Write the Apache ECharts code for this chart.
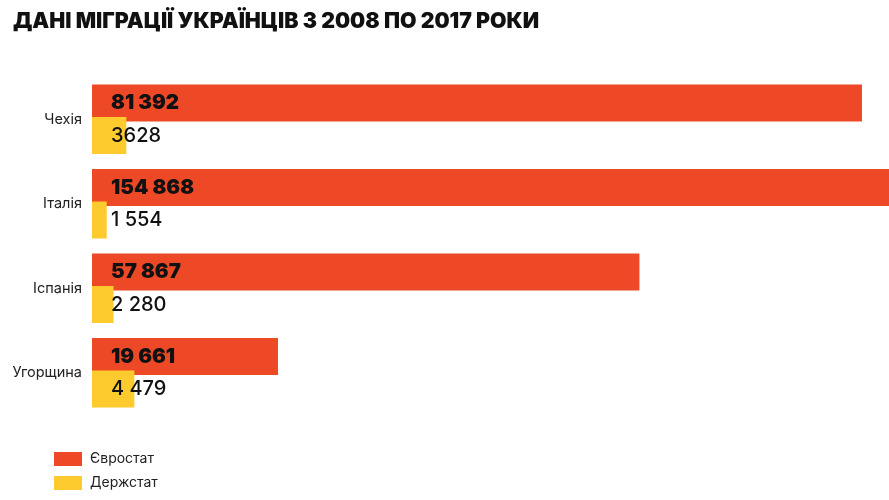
<!DOCTYPE html>
<html>
<head>
<meta charset="utf-8">
<script src="https://cdn.jsdelivr.net/npm/echarts@6/dist/echarts.min.js"></script>
<style>html,body{margin:0;padding:0;background:#fff}#c{width:889px;height:500px}</style>
</head>
<body>
<div id="c"></div>
<script>
var titleText = 'ДАНІ МІГРАЦІЇ УКРАЇНЦІВ З 2008 ПО 2017 РОКИ';
var categories = ['Чехія', 'Італія', 'Іспанія', 'Угорщина'];
var seriesNames = ['Євростат', 'Держстат'];
var eurostat = [81392, 154868, 57867, 19661];
var derzhstat = [3628, 1554, 2280, 4479];
var eurostatLabels = ['81 392', '154 868', '57 867', '19 661'];
var derzhstatLabels = ['3628', '1 554', '2 280', '4 479'];

var chart = echarts.init(document.getElementById('c'), null, {renderer: 'canvas'});
var font = 'Inter, "Open Sans", sans-serif';
chart.setOption({
  animation: false,
  backgroundColor: '#ffffff',
  title: {
    text: titleText, left: 8, top: 6,
    textStyle: {fontFamily: font, fontWeight: 900, fontSize: 21.3, color: '#111111'}
  },
  legend: {
    orient: 'vertical', left: 54, top: 452, padding: 0,
    itemWidth: 28, itemHeight: 14, itemGap: 10,
    icon: 'rect',
    textStyle: {fontFamily: font, fontSize: 14, color: '#222222', padding: [0, 0, 0, 3]},
    data: seriesNames
  },
  grid: {left: 92, right: 0, top: 77, bottom: 85, containLabel: false},
  xAxis: {type: 'value', min: 0, max: 84250, show: false},
  yAxis: {
    type: 'category', data: categories, inverse: true,
    axisLine: {show: false}, axisTick: {show: false},
    axisLabel: {fontFamily: font, fontSize: 14.5, color: '#222222', margin: 10}
  },
  series: [
    {
      name: seriesNames[0], type: 'bar', data: eurostat,
      barWidth: 37, barGap: '-12%',
      itemStyle: {color: '#EE4927'},
      label: {
        show: true, position: 'insideLeft', distance: 19,
        fontFamily: font, fontWeight: 900, fontSize: 20.5, color: '#111111',
        formatter: function (p) { return eurostatLabels[p.dataIndex]; }
      }
    },
    {
      name: seriesNames[1], type: 'bar', data: derzhstat,
      barWidth: 37,
      itemStyle: {color: '#FECB2E'},
      label: {
        show: true, position: 'insideLeft', distance: 19,
        fontFamily: font, fontWeight: 500, fontSize: 20, color: '#111111',
        formatter: function (p) { return derzhstatLabels[p.dataIndex]; }
      }
    }
  ]
});
</script>
</body>
</html>
